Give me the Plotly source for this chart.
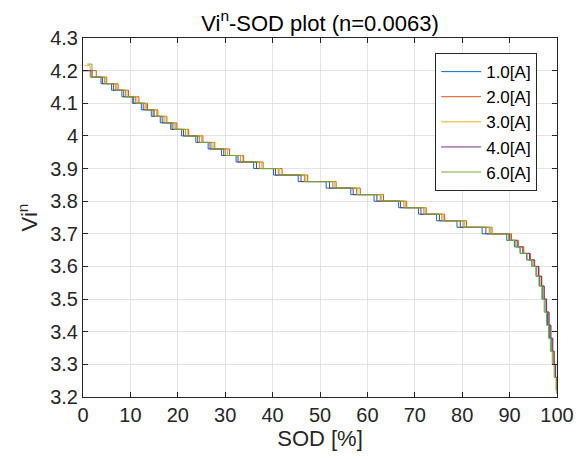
import plotly.graph_objects as go

# Shared quantized voltage levels (Vi^n)
levels = [4.20, 4.18, 4.16, 4.14, 4.12, 4.10, 4.08, 4.06, 4.04, 4.02, 4.00,
          3.98, 3.96, 3.94, 3.92, 3.90, 3.88, 3.86, 3.84, 3.82, 3.80,
          3.78, 3.76, 3.74, 3.72, 3.70, 3.68, 3.66, 3.64, 3.62, 3.60,
          3.57, 3.54, 3.50, 3.46, 3.42, 3.38, 3.34, 3.30, 3.26, 3.22]

labels = ["1.0[A]", "2.0[A]", "3.0[A]", "4.0[A]", "6.0[A]"]
colors = ["#0072BD", "#D95319", "#EDB120", "#7E2F8E", "#77AC30"]

start_v = [4.20, 4.20, 4.215, 4.20, 4.22]
end_v = [3.21, 3.24, 3.23, 3.24, 3.25]

# SOD [%] where each series steps down to each level
sod_1A = [0, 1.6, 3.8, 6.0, 8.2, 10.4, 12.3, 14.4, 16.3, 18.5, 20.8, 23.8, 26.4, 29.2, 32.3,
          36.0, 40.2, 45.4, 51.3, 56.5, 61.4, 66.6, 70.8, 74.6, 78.9, 84.2, 89.4, 91.0, 92.2,
          93.6, 94.7, 95.6, 96.3, 96.9, 97.5, 98.0, 98.4, 98.8, 99.2, 99.6, 99.9]
sod_2A = [0, 2.8, 5.0, 7.4, 9.6, 11.8, 13.6, 15.8, 17.7, 19.8, 22.3, 25.3, 27.8, 30.9, 33.9,
          38.0, 42.0, 47.4, 53.4, 58.5, 63.4, 68.3, 72.4, 76.3, 80.9, 86.3, 90.4, 91.9, 93.0,
          94.4, 95.3, 96.2, 96.8, 97.3, 97.8, 98.3, 98.7, 99.1, 99.4, 99.7, 100]
sod_3A = [0.4, 1.5, 4.8, 7.1, 9.3, 11.4, 13.4, 15.5, 17.5, 19.5, 22.0, 25.0, 27.6, 30.5, 33.6,
          37.6, 41.5, 47.0, 53.0, 58.0, 63.0, 68.0, 72.2, 76.0, 80.5, 86.0, 90.2, 91.7, 92.8,
          94.2, 95.1, 96.0, 96.6, 97.2, 97.7, 98.2, 98.6, 99.0, 99.3, 99.7, 100]
sod_4A = [0, 1.9, 4.1, 6.4, 8.6, 10.7, 12.7, 14.8, 16.7, 18.8, 21.2, 24.2, 26.8, 29.7, 32.7,
          36.6, 40.6, 46.0, 52.0, 57.0, 62.0, 67.0, 71.3, 75.2, 79.6, 85.0, 90.0, 91.6, 92.8,
          94.2, 95.2, 96.1, 96.7, 97.3, 97.8, 98.3, 98.7, 99.1, 99.4, 99.7, 100]
sod_6A = [0.9, 1.9, 4.5, 6.8, 9.0, 11.1, 13.1, 15.1, 17.1, 19.2, 21.6, 24.6, 27.2, 30.1, 33.2,
          37.2, 41.2, 46.7, 52.7, 57.7, 62.7, 67.7, 71.9, 75.7, 80.2, 85.7, 89.8, 91.2, 92.3,
          93.7, 94.7, 95.6, 96.2, 96.8, 97.3, 97.8, 98.2, 98.6, 99.0, 99.4, 99.8]

sod_all = [sod_1A, sod_2A, sod_3A, sod_4A, sod_6A]

x_ticks = [0, 10, 20, 30, 40, 50, 60, 70, 80, 90, 100]
y_ticks = [3.2, 3.3, 3.4, 3.5, 3.6, 3.7, 3.8, 3.9, 4.0, 4.1, 4.2, 4.3]
y_ticktext = ["3.2", "3.3", "3.4", "3.5", "3.6", "3.7", "3.8", "3.9", "4", "4.1", "4.2", "4.3"]

fig = go.Figure()
for i in range(5):
    xs = list(sod_all[i]) + [100]
    ys = [start_v[i]] + levels[1:] + [end_v[i]]
    fig.add_trace(go.Scatter(
        x=xs, y=ys, mode="lines", name=labels[i],
        line=dict(color=colors[i], width=1, shape="hv"),
    ))

font_family = "Liberation Sans, Arial, sans-serif"
axis_common = dict(
    showline=True, linecolor="#262626", linewidth=1, mirror="allticks",
    ticks="inside", ticklen=5, tickcolor="#262626",
    showgrid=True, gridcolor="#e3e3e3", gridwidth=1, zeroline=False,
    tickfont=dict(family=font_family, size=20, color="#262626"),
    automargin=False,
)

fig.update_layout(
    width=580, height=451,
    margin=dict(l=75, r=31, t=30, b=62, autoexpand=False),
    paper_bgcolor="white", plot_bgcolor="white",
    font=dict(family=font_family, color="#262626"),
    title=dict(text="Vi<sup>n</sup>-SOD plot (n=0.0063)", x=0.5, xref="paper",
               y=0.967, yref="container", yanchor="middle",
               font=dict(family=font_family, size=22, color="black")),
    xaxis=dict(range=[0, 100], tickvals=x_ticks,
               title=dict(text="SOD [%]", standoff=0,
                          font=dict(family=font_family, size=22, color="#262626")),
               **axis_common),
    yaxis=dict(range=[3.2, 4.3], tickvals=y_ticks, ticktext=y_ticktext,
               title=dict(text="Vi<sup>n</sup>", standoff=6,
                          font=dict(family=font_family, size=22, color="#262626")),
               **axis_common),
    legend=dict(x=0.743, y=0.958, xanchor="left", yanchor="top",
                bgcolor="white", bordercolor="#262626", borderwidth=1,
                font=dict(family=font_family, size=17, color="black"),
                tracegroupgap=0, itemwidth=40),
    showlegend=True,
)

fig.write_html("out.html")
